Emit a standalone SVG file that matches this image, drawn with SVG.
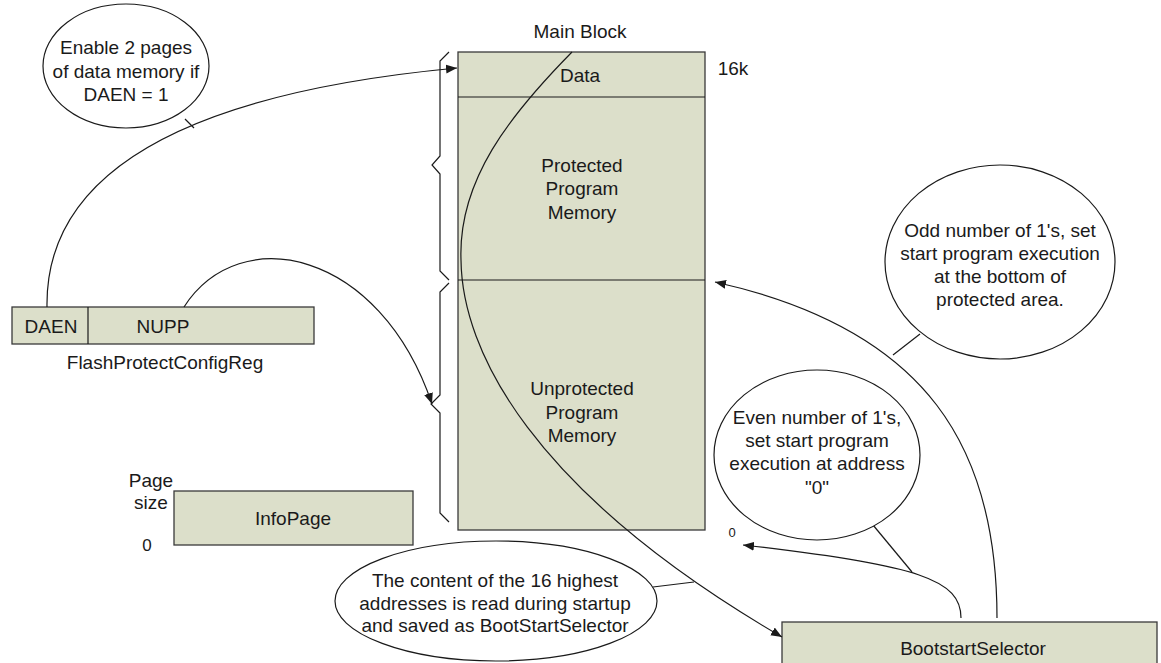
<svg xmlns="http://www.w3.org/2000/svg" width="1161" height="663" viewBox="0 0 1161 663">
<defs>
<style>
text{font-family:"Liberation Sans",Arial,sans-serif;font-size:19px;fill:#1a1a1a;text-anchor:middle}
.box{fill:#dcdfca;stroke:#3a3a3a;stroke-width:1.3}
.ell{fill:#ffffff;stroke:#1a1a1a;stroke-width:1.2}
.ln{fill:none;stroke:#1a1a1a;stroke-width:1.2}
.sm{font-size:13px}
</style>
<marker id="ah" markerWidth="12" markerHeight="10" refX="11" refY="4.5" orient="auto" markerUnits="userSpaceOnUse">
<path d="M0,0 L11,4.5 L0,9 Z" fill="#1a1a1a"/>
</marker>
</defs>
<rect width="1161" height="663" fill="#ffffff"/>

<g id="main-block">
<text x="580" y="38">Main Block</text>
<rect class="box" x="458" y="52" width="247" height="478"/>
<line class="ln" x1="458" y1="97" x2="705" y2="97"/>
<line class="ln" x1="458" y1="280" x2="705" y2="280"/>
<text x="580" y="82">Data</text>
<text x="582" y="172">Protected</text>
<text x="582" y="195">Program</text>
<text x="582" y="219">Memory</text>
<text x="582" y="395">Unprotected</text>
<text x="582" y="419">Program</text>
<text x="582" y="442">Memory</text>
<text x="733" y="75">16k</text>
<text class="sm" x="732" y="537">0</text>
</g>

<g id="braces">
<path class="ln" d="M449,52 L440,61 L440,156 L432,165 L440,174 L440,271 L449,280"/>
<path class="ln" d="M449,283 L440,292 L440,395 L431,404 L440,413 L440,513 L449,522"/>
</g>

<g id="flash-protect-config-reg">
<rect class="box" x="12" y="307" width="302" height="37"/>
<line class="ln" x1="88" y1="307" x2="88" y2="344"/>
<text x="51" y="333">DAEN</text>
<text x="163" y="333">NUPP</text>
<text x="165" y="369">FlashProtectConfigReg</text>
</g>

<g id="infopage">
<rect class="box" x="174" y="491" width="239" height="54"/>
<text x="293" y="525">InfoPage</text>
<text x="151" y="487">Page</text>
<text x="151" y="509">size</text>
<text x="147" y="551" style="font-size:17px">0</text>
</g>

<g id="bootstart-selector">
<rect class="box" x="782" y="622" width="375" height="60"/>
<text x="973" y="655">BootstartSelector</text>
</g>

<g id="connectors">
<path class="ln" d="M47,307 C45,180 170,95 457,68" marker-end="url(#ah)"/>
<path class="ln" d="M184,307 C240,220 380,250 432,404" marker-end="url(#ah)"/>
<path class="ln" d="M572,52 C510,115 458,180 461,260 C462,350 530,490 782,637" marker-end="url(#ah)"/>
<path class="ln" d="M997,618 C997,450 930,330 715,282" marker-end="url(#ah)"/>
<path class="ln" d="M961,618 C961,580 920,565 743,545" marker-end="url(#ah)"/>
<line class="ln" x1="185" y1="119" x2="194" y2="128"/>
<line class="ln" x1="653" y1="587" x2="694" y2="582"/>
<line class="ln" x1="920" y1="334" x2="893" y2="355"/>
<line class="ln" x1="873" y1="525" x2="912" y2="572"/>
</g>

<g id="note-daen">
<ellipse class="ell" cx="126" cy="66" rx="83" ry="62"/>
<text x="126" y="54">Enable 2 pages</text>
<text x="126" y="78">of data memory if</text>
<text x="126" y="101">DAEN = 1</text>
</g>

<g id="note-odd">
<ellipse class="ell" cx="1000" cy="262" rx="115" ry="97"/>
<text x="1000" y="237">Odd number of 1's, set</text>
<text x="1000" y="260">start program execution</text>
<text x="1000" y="283">at the bottom of</text>
<text x="1000" y="306">protected area.</text>
</g>

<g id="note-even">
<ellipse class="ell" cx="817" cy="455" rx="103" ry="85"/>
<text x="817" y="424">Even number of 1's,</text>
<text x="817" y="447">set start program</text>
<text x="817" y="470">execution at address</text>
<text x="817" y="494">"0"</text>
</g>

<g id="note-content">
<ellipse class="ell" cx="496" cy="601" rx="161" ry="60"/>
<text x="495" y="587">The content of the 16 highest</text>
<text x="495" y="610">addresses is read during startup</text>
<text x="495" y="632">and saved as BootStartSelector</text>
</g>
</svg>
